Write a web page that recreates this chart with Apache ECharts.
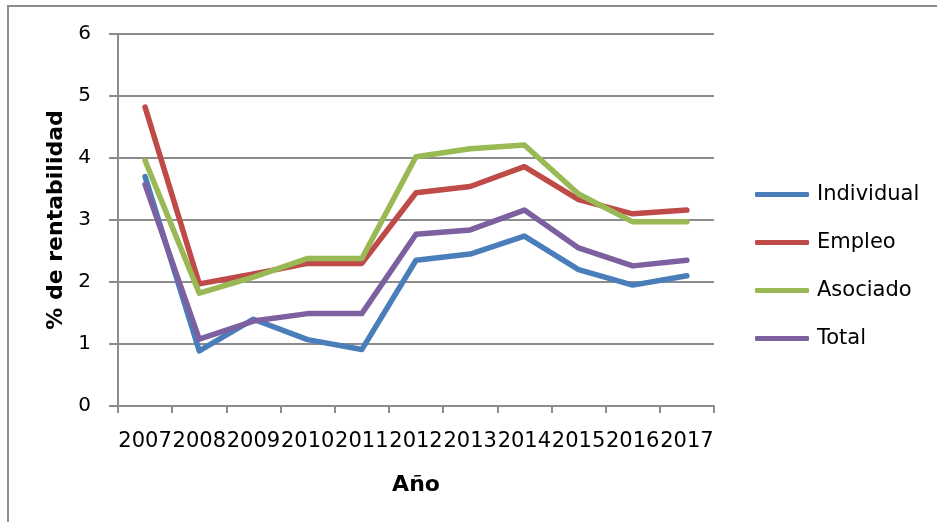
<!DOCTYPE html>
<html>
<head>
<meta charset="utf-8">
<script src="https://cdn.jsdelivr.net/npm/echarts@6/dist/echarts.min.js"></script>
<style>
  html, body { margin: 0; padding: 0; background: #fff; }
  #frame {
    position: absolute; left: 7px; top: 5px; width: 1000px; height: 600px;
    border-left: 2px solid #8c8c8c; border-top: 2px solid #8c8c8c;
  }
  #chart { position: absolute; left: 0; top: 0; width: 937px; height: 522px; }
</style>
</head>
<body>
<div id="frame"></div>
<div id="chart"></div>
<script>
// datos
const years = ["2007", "2008", "2009", "2010", "2011", "2012", "2013", "2014", "2015", "2016", "2017"];
const individual = [3.70, 0.89, 1.40, 1.07, 0.91, 2.35, 2.45, 2.74, 2.20, 1.95, 2.10];
const empleo = [4.82, 1.97, 2.13, 2.30, 2.30, 3.44, 3.54, 3.86, 3.33, 3.10, 3.16];
const asociado = [3.96, 1.82, 2.08, 2.38, 2.38, 4.02, 4.15, 4.21, 3.42, 2.97, 2.97];
const total = [3.57, 1.08, 1.37, 1.49, 1.49, 2.77, 2.84, 3.16, 2.55, 2.26, 2.35];
const seriesNames = ["Individual", "Empleo", "Asociado", "Total"];
const colors = ["#4a7ebb", "#be4b48", "#98b954", "#7d60a0"];

const font = "DejaVu Sans";
const gray = "#8c8c8c";

function makeLine(name, data, color) {
  return {
    name: name,
    type: "line",
    data: data,
    symbol: "none",
    showSymbol: false,
    lineStyle: { color: color, width: 5.5, cap: "round", join: "round" },
    itemStyle: { color: color }
  };
}

const chart = echarts.init(document.getElementById("chart"), null, { renderer: "canvas" });
chart.setOption({
  animation: false,
  color: colors,
  grid: { left: 118, right: 223, top: 34, bottom: 116 },
  legend: {
    orient: "vertical",
    left: 755,
    top: 184,
    padding: 0,
    icon: "roundRect",
    itemWidth: 54,
    itemHeight: 5,
    itemGap: 27,
    data: seriesNames,
    textStyle: { fontFamily: font, fontSize: 21, color: "#000", lineHeight: 21, padding: [0, 0, 0, 3] }
  },
  xAxis: {
    type: "category",
    data: years,
    boundaryGap: true,
    name: "Año",
    nameLocation: "middle",
    nameGap: 68,
    nameTextStyle: { fontFamily: font, fontSize: 22, fontWeight: "bold", color: "#000" },
    axisLine: { lineStyle: { color: gray, width: 2 } },
    axisTick: { show: true, length: 7, lineStyle: { color: gray, width: 2 } },
    axisLabel: { interval: 0, margin: 25, fontFamily: font, fontSize: 21, color: "#000" }
  },
  yAxis: {
    type: "value",
    min: 0,
    max: 6,
    interval: 1,
    name: "% de rentabilidad",
    nameLocation: "middle",
    nameGap: 48,
    nameTextStyle: { fontFamily: font, fontSize: 22, fontWeight: "bold", color: "#000" },
    axisLine: { show: true, lineStyle: { color: gray, width: 2 } },
    axisTick: { show: true, length: 9, lineStyle: { color: gray, width: 2 } },
    axisLabel: { margin: 27, fontFamily: font, fontSize: 20, color: "#000" },
    splitLine: { lineStyle: { color: gray, width: 2 } }
  },
  series: [
    makeLine(seriesNames[0], individual, colors[0]),
    makeLine(seriesNames[1], empleo, colors[1]),
    makeLine(seriesNames[2], asociado, colors[2]),
    makeLine(seriesNames[3], total, colors[3])
  ]
});
</script>
</body>
</html>
